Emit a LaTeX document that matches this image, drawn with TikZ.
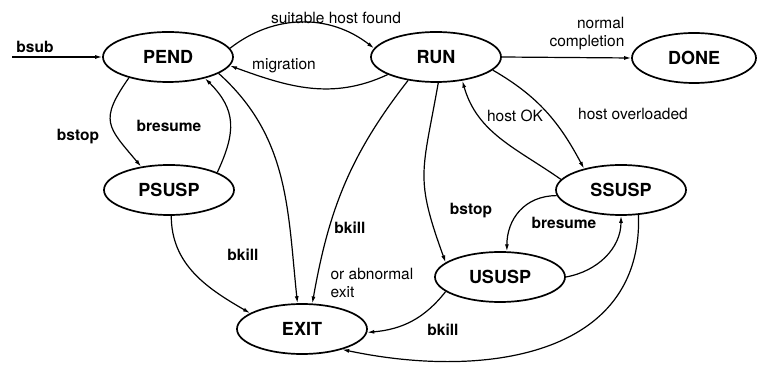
\documentclass[tikz,border=0pt]{standalone}
\usepackage{fontspec}
\setmainfont{TeX Gyre Heros}
\usetikzlibrary{shapes.geometric}
\usetikzlibrary{arrows.meta}
\tikzset{
    jobstate/.style={shape=ellipse, draw=black, line width=1.7pt, minimum width=130pt, minimum height=50pt, inner sep=0pt, font=\fontsize{18}{20}\selectfont\bfseries},
    cmd/.style={inner sep=0pt, font=\fontsize{15.5}{17}\selectfont\bfseries},
    note/.style={inner sep=0pt, font=\fontsize{15.5}{18}\selectfont},
    >={Latex[length=7pt,width=4pt]}}

\begin{document}
\begin{tikzpicture}[x=1pt, y=1pt, line width=1.2pt]

            \useasboundingbox (0,0) rectangle (757,369);

            \node[jobstate] (PEND) at (168,312) {PEND};
            \node[jobstate] (RUN) at (436,312) {RUN};
            \node[jobstate, minimum width=124pt] (DONE) at (694,311) {DONE};
            \node[jobstate] (PSUSP) at (169,179) {PSUSP};
            \node[jobstate] (SSUSP) at (621,179) {SSUSP};
            \node[jobstate] (USUSP) at (500,92) {USUSP};
            \node[jobstate] (EXIT) at (302,40) {EXIT};
            \coordinate (submit) at (12,312);

            \draw[->] (submit) -- (PEND.west);
            \draw[->] (PEND.8) to[out=38, in=142] (RUN.172);
            \draw[->] (RUN.-160) to[out=-155, in=-20] (PEND.-8);
            \draw[->] (RUN.east) -- (DONE.west);
            \draw[->] (PEND.-152) to[out=-125, in=130, looseness=1.5] (PSUSP.140);
            \draw[->] (PSUSP.20) to[out=65, in=-45, looseness=1.2] (PEND.-30);
            \draw[->] (PEND.-18) to[out=-42, in=96] (EXIT.100);
            \draw[->] (RUN.-140) to[out=-128, in=80] (EXIT.68);
            \draw[->] (PSUSP.-85) to[out=-90, in=150] (EXIT.163);
            \draw[->] (RUN.-85) to[out=-100, in=110, looseness=1.3] (USUSP.165);
            \draw[->] (RUN.-13) to[out=-30, in=118] (SSUSP.150);
            \draw[->] (SSUSP.170) to[out=145, in=-74] (RUN.-42);
            \draw[->] (SSUSP.185) to[out=180, in=90, looseness=1.1] (USUSP.75);
            \draw[->] (USUSP.east) to[out=10, in=-90] (SSUSP.-90);
            \draw[->] (USUSP.-165) to[out=-128, in=5] (EXIT.-3);
            \draw[->] (SSUSP.-55) to[out=-88, in=-12, looseness=1.12] (EXIT.-27);

            \node[cmd] (bsubtxt) at (35,322) {bsub};
            \node[note] (foundtxt) at (336,351) {suitable host found};
            \node[note] (migtxt) at (284,303) {migration};
            \node[note, align=right, anchor=east] (donetxt) at (625,335) {normal\\completion};
            \node[cmd] (pstoptxt) at (78,232) {bstop};
            \node[cmd] (presumetxt) at (169,243) {bresume};
            \node[cmd] (pkilltxt) at (243,114) {bkill};
            \node[cmd] (rkilltxt) at (350,141) {bkill};
            \node[note, align=left, anchor=west] (abnormtxt) at (330,86) {or abnormal\\exit};
            \node[cmd] (ustoptxt) at (471,158) {bstop};
            \node[note] (okaytxt) at (515,253) {host OK};
            \node[note] (overtxt) at (633,255) {host overloaded};
            \node[cmd] (sresumetxt) at (564,146) {bresume};
            \node[cmd] (ukilltxt) at (443,39) {bkill};

\end{tikzpicture}
\end{document}
